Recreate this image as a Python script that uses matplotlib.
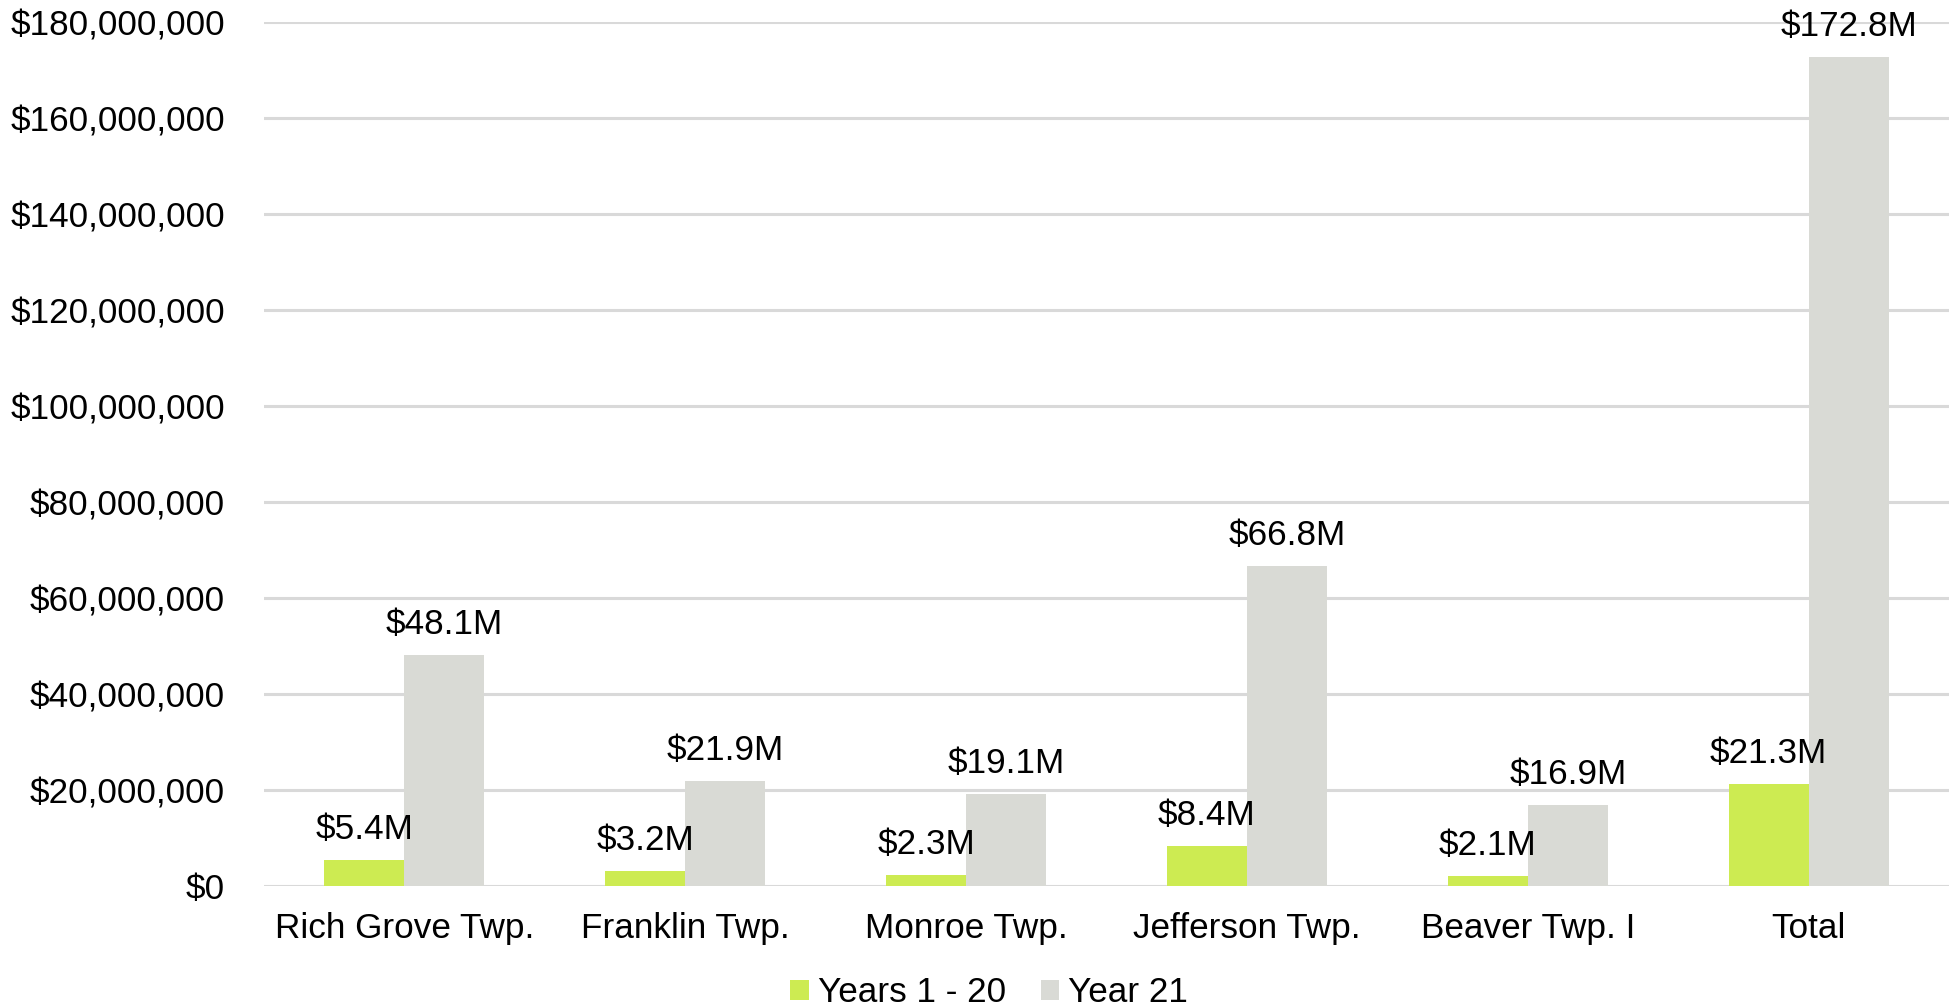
import numpy as np
import matplotlib
matplotlib.use("Agg")
import matplotlib.pyplot as plt
from matplotlib.ticker import FuncFormatter

plt.rcParams['font.family'] = ['Liberation Sans', 'DejaVu Sans']

# Werte in Mio. $
townships = ['Rich Grove Twp.', 'Franklin Twp.', 'Monroe Twp.',
             'Jefferson Twp.', 'Beaver Twp. I', 'Total']
years_1_20 = [5.4, 3.2, 2.3, 8.4, 2.1, 21.3]
year_21 = [48.1, 21.9, 19.1, 66.8, 16.9, 172.8]
series_names = ['Years 1 - 20', 'Year 21']

green = '#CDEB52'
grey = '#D9DAD5'
fs = 25.3

fig = plt.figure(figsize=(19.55, 10.08), dpi=100)
ax = fig.add_axes([0.135, 0.121, 0.862, 0.8568])

x = np.arange(len(townships))
w = 0.285
b1 = ax.bar(x - w / 2, np.array(years_1_20) * 1e6, w, color=green, label=series_names[0], zorder=3)
b2 = ax.bar(x + w / 2, np.array(year_21) * 1e6, w, color=grey, label=series_names[1], zorder=3)

# Datenbeschriftung ueber den Balken
for bars, vals in ((b1, years_1_20), (b2, year_21)):
    for r, v in zip(bars, vals):
        ax.annotate(f'${v:.1f}M', (r.get_x() + r.get_width() / 2, r.get_height()),
                    xytext=(0, 10), textcoords='offset points',
                    ha='center', va='bottom', fontsize=fs, color='black')

ax.set_xlim(-0.5, len(townships) - 0.5)
ax.set_ylim(0, 180e6)
ax.set_yticks(np.arange(0, 180e6 + 1, 20e6))
ax.yaxis.set_major_formatter(FuncFormatter(lambda v, p: f'${v:,.0f}'))
ax.set_xticks(x)
ax.set_xticklabels(townships)
ax.tick_params(axis='both', length=0, labelsize=fs, colors='black')
ax.tick_params(axis='y', pad=28)
ax.tick_params(axis='x', pad=19)
ax.grid(axis='y', color='#D9D9D9', linewidth=2.2, zorder=0)
for s in ax.spines.values():
    s.set_visible(False)

fig.legend(loc='center', bbox_to_anchor=(0.506, 0.015), ncol=2, frameon=False,
           fontsize=fs, handlelength=0.52, handleheight=0.52,
           handletextpad=0.26, columnspacing=1.0, borderpad=0)

fig.savefig('out.png', dpi=100, facecolor='white')
